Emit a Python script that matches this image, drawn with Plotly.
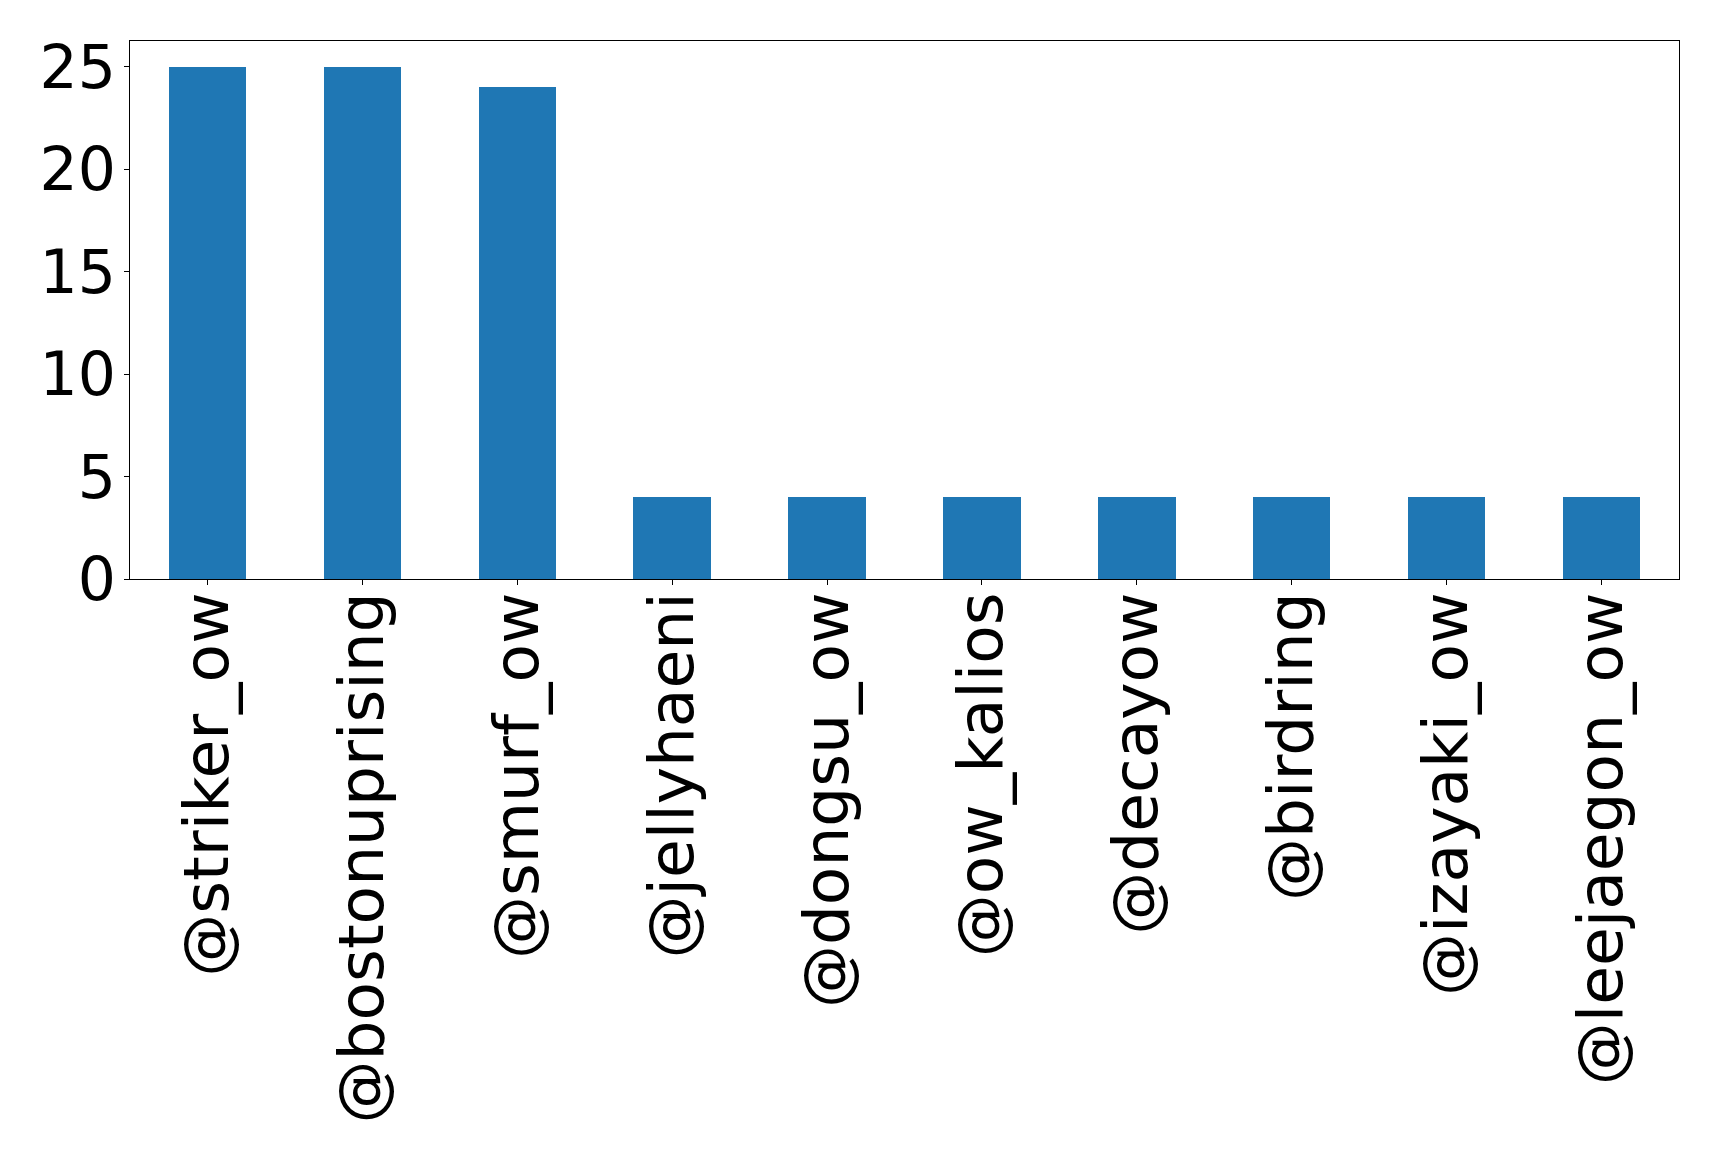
import plotly.graph_objects as go

# Top mentioned accounts and their counts
accounts = ["@striker_ow", "@bostonuprising", "@smurf_ow", "@jellyhaeni", "@dongsu_ow",
            "@ow_kalios", "@decayow", "@birdring", "@izayaki_ow", "@leejaegon_ow"]
counts = [25, 25, 24, 4, 4, 4, 4, 4, 4, 4]

W, H = 1719, 1155
left, right, top, bottom = 129.5, 39.5, 40.5, 576

fig = go.Figure(
    go.Bar(
        x=list(range(len(accounts))),
        y=counts,
        width=0.5,
        marker=dict(color="#1f77b4", line=dict(width=0)),
    )
)

axis_common = dict(
    showline=True, linecolor="black", linewidth=1.3, mirror=True,
    showgrid=False, zeroline=False,
    ticks="outside", ticklen=5, tickwidth=1.3, tickcolor="black",
)

fig.update_layout(
    width=W, height=H,
    margin=dict(l=left, r=right, t=top, b=bottom, autoexpand=False),
    paper_bgcolor="white", plot_bgcolor="white",
    showlegend=False,
    bargap=0,
    xaxis=dict(
        **axis_common,
        tickfont=dict(family="DejaVu Sans", size=63, color="black"),
        range=[-0.5, len(accounts) - 0.5],
        tickmode="array",
        tickvals=list(range(len(accounts))),
        ticktext=accounts,
        tickangle=-90,
        ticklabelstandoff=-18,
    ),
    yaxis=dict(
        **axis_common,
        tickfont=dict(family="DejaVu Sans", size=60, color="black"),
        range=[0, 26.25],
        tickmode="array",
        tickvals=[0, 5, 10, 15, 20, 25],
        ticktext=["0", "5", "10", "15", "20", "25"],
        ticklabelstandoff=-4,
    ),
)

fig.write_html("out.html")
